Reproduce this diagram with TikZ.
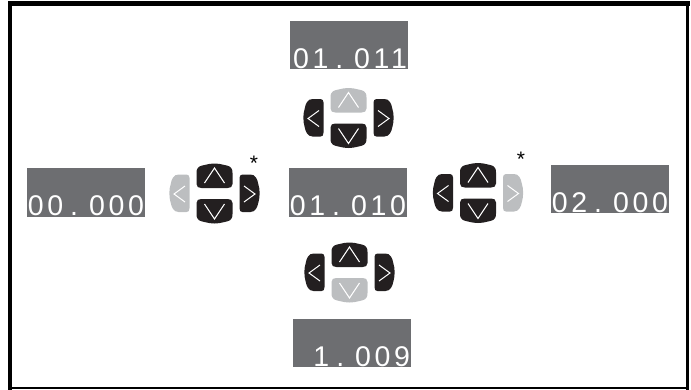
\documentclass[tikz,border=0pt]{standalone}
\usepackage{fontspec}
\setmainfont{Liberation Sans}
\newfontfamily\readoutfont[LetterSpace=13,WordSpace=0.6]{Liberation Sans}
\definecolor{screen}{HTML}{6D6E71}
\definecolor{keydark}{HTML}{231F20}
\definecolor{keypale}{HTML}{BCBEC0}
\tikzset{readout/.style={fill=screen, text=white, inner sep=0,
    text height=47.5, text depth=1, font=\readoutfont\fontsize{28.5}{28.5}\selectfont}}
\tikzset{dark key/.style={fill=keydark}}
\tikzset{pale key/.style={fill=keypale}}
\tikzset{chevron/.style={draw=white, line width=1pt}}
\tikzset{star/.style={inner sep=0, font=\fontsize{21}{21}\selectfont}}
\tikzset{frame/.style={draw=black, line cap=rect}}

% digits sit against the right edge of the screen
\newcommand{\digits}[1]{\makebox[118pt][r]{#1\kern1pt}}

% one button, drawn pointing up in its own coordinates
\newcommand{\upkey}[1]{
  \fill[#1] (-18,-9) -- (-18,-20) .. controls (-18,-27) and (-14,-27) .. (-10,-28)
    .. controls (-3,-30) and (3,-30) .. (10,-28) .. controls (14,-27) and (18,-27) .. (18,-20)
    -- (18,-9) .. controls (18,-6) and (16,-5) .. (13,-5) -- (-13,-5)
    .. controls (-16,-5) and (-18,-6) .. (-18,-9) -- cycle;
  \draw[chevron] (-10,-10) -- (0,-25) -- (10,-10);
}
\newcommand{\leftkey}[1]{
  \fill[#1] (-36,-18.5) -- (-28,-18.5) .. controls (-26,-18.5) and (-25,-17) .. (-25,-15)
    -- (-25,15) .. controls (-25,18) and (-26,19) .. (-28,19) -- (-36,19)
    .. controls (-41,19) and (-43,14) .. (-44,9) .. controls (-45.5,4) and (-45.5,-4) .. (-44,-8)
    .. controls (-43,-14) and (-41,-18.5) .. (-36,-18.5) -- cycle;
  \draw[chevron] (-29.5,-7) -- (-40.5,1) -- (-29.5,9);
}
% centre, then styles of left, up, down and right button
\newcommand{\keypad}[5]{
  \begin{scope}[shift={(#1)}]
    \leftkey{#2}
    \upkey{#3}
    \begin{scope}[yscale=-1, yshift=1]\upkey{#4}\end{scope}
    \begin{scope}[xscale=-1]\leftkey{#5}\end{scope}
  \end{scope}
}

\begin{document}
\begin{tikzpicture}[x=1pt, y=-1pt]
  \useasboundingbox (0, 0) rectangle (691, 389);

  % outer frame
  \draw[frame, line width=5] (10, 3.5) -- (687, 3.5);
  \draw[frame, line width=4] (10, 3.5) -- (10, 388);
  \draw[frame, line width=3.5] (687.5, 3.5) -- (687.5, 388);
  \draw[frame, line width=1.5] (10, 388.2) -- (687, 388.2);

  \node[readout] at (349, 45) (top) {\digits{01 . 011}};
  \node[readout] at (348, 192.5) (centre) {\digits{01 . 010}};
  \node[readout] at (86, 192.5) (left) {\digits{00 . 000}};
  \node[readout] at (610, 189) (right) {\digits{02 . 000}};
  \node[readout] at (352, 343) (bottom) {\digits{1 . 009}};

  \keypad{348.5, 117.5}{dark key}{pale key}{dark key}{dark key}
  \keypad{214.5, 193}{pale key}{dark key}{dark key}{dark key}
  \keypad{478, 192.5}{dark key}{dark key}{dark key}{pale key}
  \keypad{349.5, 272}{dark key}{dark key}{pale key}{dark key}

  \node[star] at (254, 163) (star a) {*};
  \node[star] at (521, 159) (star b) {*};
\end{tikzpicture}
\end{document}
